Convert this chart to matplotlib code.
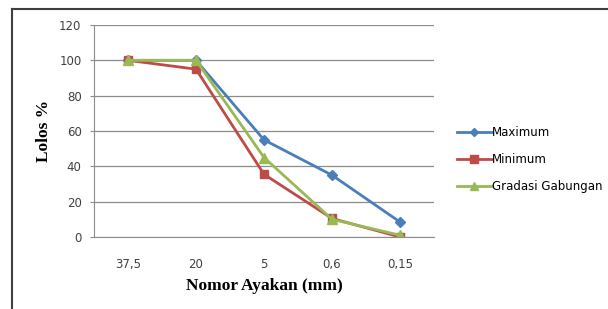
import numpy as np
import matplotlib.pyplot as plt
from matplotlib.lines import Line2D

# data
ayakan = ['37,5', '20', '5', '0,6', '0,15']
maximum = [100, 100, 55, 35, 8.5]
minimum = [100, 95, 35.5, 10.5, 0]
gabungan = [100, 100, 45, 10, 1]

fig = plt.figure(figsize=(6.08, 3.09), dpi=100)
ax = fig.add_axes([94 / 608, 72 / 309, 340 / 608, 212 / 309])

x = np.arange(len(ayakan))
ax.plot(x, maximum, color='#4A7EBB', lw=2, marker='D', ms=5, label='Maximum')
ax.plot(x, minimum, color='#BE4B48', lw=2, marker='s', ms=6, label='Minimum')
ax.plot(x, gabungan, color='#98B954', lw=2, marker='^', ms=7, label='Gradasi Gabungan')

ax.set_xlim(-0.5, 4.5)
ax.set_ylim(0, 120)
ax.set_yticks(range(0, 121, 20))
ax.set_xticks(x)
ax.set_xticklabels(ayakan)
ax.grid(axis='y', color='#8c8c8c', lw=0.9)
ax.set_axisbelow(True)
for s in ['top', 'right']:
    ax.spines[s].set_visible(False)
ax.spines['left'].set_color('#8c8c8c')
ax.spines['bottom'].set_color('#8c8c8c')
ax.tick_params(axis='y', length=3, color='#8c8c8c', labelsize=8.5, labelcolor='#404040', pad=6)
ax.tick_params(axis='x', length=0, labelsize=8.5, labelcolor='#404040', pad=15)

ax.set_xlabel('Nomor Ayakan (mm)', family='Liberation Serif', fontweight='bold', fontsize=12.5, labelpad=5)
ax.set_ylabel('Lolos %', family='Liberation Serif', fontweight='bold', fontsize=12.5, labelpad=5)

ax.legend(loc='center left', bbox_to_anchor=(1.035, 0.365), frameon=False, fontsize=8.5,
          handlelength=3.0, handletextpad=0.0, labelspacing=1.2, markerscale=0.9)

# outer chart border
fig.add_artist(Line2D([12 / 608, 1], [1 - 9 / 309, 1 - 9 / 309], color='#404040', lw=1.5))
fig.add_artist(Line2D([12 / 608, 12 / 608], [0, 1 - 9 / 309], color='#404040', lw=1.5))

fig.savefig('out.png', dpi=100)
